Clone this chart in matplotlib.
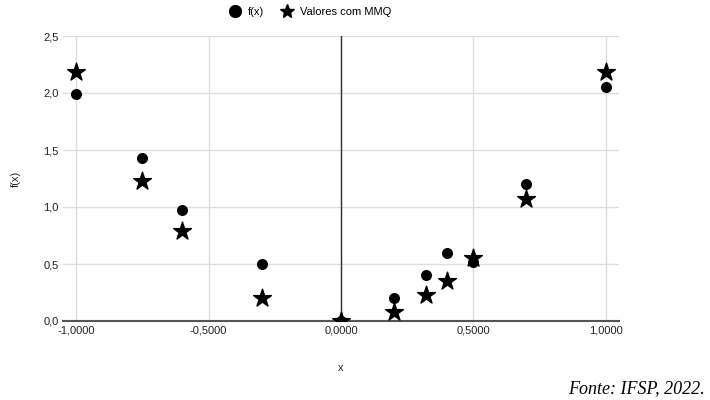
import matplotlib
matplotlib.use('Agg')
import matplotlib.pyplot as plt
from matplotlib.lines import Line2D
from matplotlib.ticker import FuncFormatter

# valores
x = [-1.0, -0.75, -0.6, -0.3, 0.0, 0.2, 0.32, 0.4, 0.5, 0.7, 1.0]
fx = [1.99, 1.43, 0.97, 0.50, 0.0, 0.20, 0.40, 0.60, 0.52, 1.20, 2.05]
mmq = [2.18, 1.23, 0.79, 0.20, 0.0, 0.08, 0.23, 0.35, 0.55, 1.07, 2.18]

xticks = [-1.0, -0.5, 0.0, 0.5, 1.0]
yticks = [0.0, 0.5, 1.0, 1.5, 2.0, 2.5]
series_names = ['f(x)', 'Valores com MMQ']

plt.rcParams['font.family'] = ['Liberation Sans', 'DejaVu Sans']

fig = plt.figure(figsize=(7.1, 4.0), dpi=100)
ax = fig.add_axes([0.0887, 0.1975, 0.7833, 0.7125])

ax.scatter(x, fx, marker='o', s=48, color='black', zorder=3)
ax.scatter(x, mmq, marker='*', s=180, color='black', zorder=3)

ax.set_xlim(-1.05, 1.05)
ax.set_ylim(0, 2.5)
ax.set_xticks(xticks)
ax.set_yticks(yticks)
ax.xaxis.set_major_formatter(FuncFormatter(lambda v, p: f"{v:.4f}".replace('.', ',')))
ax.yaxis.set_major_formatter(FuncFormatter(lambda v, p: f"{v:.1f}".replace('.', ',')))
ax.grid(True, color='#dddddd', linewidth=1)
ax.set_axisbelow(True)

for s in ['top', 'right', 'left']:
    ax.spines[s].set_visible(False)
ax.spines['bottom'].set_color('#555555')
ax.spines['bottom'].set_linewidth(1.5)
ax.axvline(0, color='#333333', linewidth=1, zorder=2)

ax.tick_params(length=0, labelsize=8, colors='#222222', pad=3)
ax.set_xlabel('x', fontsize=8, color='#222222', labelpad=20)
ax.set_ylabel('f(x)', fontsize=8, color='#222222', labelpad=16)

# legenda no topo
handles = [
    Line2D([], [], linestyle='none', marker='o', markersize=8.5, color='black'),
    Line2D([], [], linestyle='none', marker='*', markersize=10, color='black'),
]
fig.legend(handles, series_names, loc='center', bbox_to_anchor=(0.437, 0.97), ncol=2,
           frameon=False, fontsize=8, handletextpad=0.7, columnspacing=1.5,
           handlelength=1.0)

fig.text(0.993, 0.028, 'Fonte: IFSP, 2022.', ha='right', va='center', fontsize=13,
         style='italic', family='Liberation Serif')

fig.savefig('out.png', dpi=100)
